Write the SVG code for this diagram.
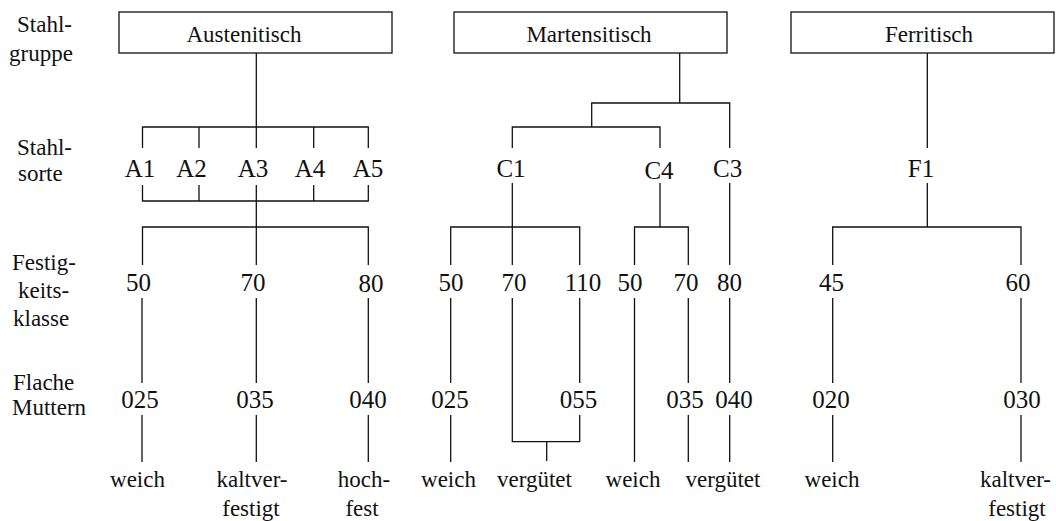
<svg xmlns="http://www.w3.org/2000/svg" width="1056" height="521" viewBox="0 0 1056 521">
<style>
text{font-family:"Liberation Serif",Tinos,"Nimbus Roman","Nimbus Roman No9 L",FreeSerif,"Noto Serif","DejaVu Serif",Times,serif;fill:#111}
.w{font-size:23px}
.n{font-size:25px;text-anchor:middle}
.c{text-anchor:middle}
.box{fill:#fff;stroke:#111;stroke-width:1.3}
.ln{fill:none;stroke:#111;stroke-width:1.3}
</style>
<rect width="1056" height="521" fill="#fff"/>
<g id="row-labels" class="w">
<text x="17" y="32">Stahl-</text><text x="9" y="61">gruppe</text>
<text x="17" y="155">Stahl-</text><text x="18" y="181">sorte</text>
<text x="12" y="270">Festig-</text><text x="18" y="298">keits-</text><text x="13" y="326">klasse</text>
<text x="13" y="390">Flache</text><text x="12" y="415">Muttern</text>
</g>
<g id="connectors" class="ln">
<path d="M256.3 53V127M142.5 148V127H368.3V148M199 127V148M256.3 127V148M313.7 127V148"/>
<path d="M142.5 185V201H368.3V185M199 185V201M313.7 185V201M256.3 185V227"/>
<path d="M142.5 265V227H368.3V265M256.3 227V265"/>
<path d="M142 298V383M256.3 298V383M368.3 298V383M142 415V462M256.3 415V462M368.3 415V462"/>
<path d="M679.7 53V103M591.7 127V103H729.7V148M512.3 148V127H660V148"/>
<path d="M512.3 183V227M450.7 265V227H579.7V265M512.3 227V265M660 183V227M634.5 265V227H688.3V265M729.7 183V265"/>
<path d="M450.7 298V383M512.3 298V441.7H579.7V415M579.7 298V383M546.7 441.7V461M634.5 298V462M688.3 298V383M729.7 298V383"/>
<path d="M450.7 415V462M688.3 415V462M729.7 415V462"/>
<path d="M927.3 53V148M927.3 183V227M832.7 265V227H1021V265M832.7 298V383M1021 298V383M832.7 415V462M1021 415V462"/>
</g>
<g id="austenitisch"><rect class="box" x="119" y="12" width="273" height="41"/><text class="w c" x="244" y="42">Austenitisch</text></g>
<g id="martensitisch"><rect class="box" x="454" y="12" width="273" height="41"/><text class="w c" x="589" y="42">Martensitisch</text></g>
<g id="ferritisch"><rect class="box" x="791" y="12" width="263" height="41"/><text class="w c" x="929" y="42">Ferritisch</text></g>
<g id="A1"><text class="n" x="140" y="177">A1</text></g>
<g id="A2"><text class="n" x="191.5" y="177">A2</text></g>
<g id="A3"><text class="n" x="253" y="177">A3</text></g>
<g id="A4"><text class="n" x="310" y="177">A4</text></g>
<g id="A5"><text class="n" x="368" y="177">A5</text></g>
<g id="C1"><text class="n" x="511" y="177">C1</text></g>
<g id="C4"><text class="n" x="659" y="179">C4</text></g>
<g id="C3"><text class="n" x="727.7" y="177">C3</text></g>
<g id="F1"><text class="n" x="921" y="177">F1</text></g>
<g id="A-50"><text class="n" x="138.5" y="291">50</text></g>
<g id="A-70"><text class="n" x="253" y="291">70</text></g>
<g id="A-80"><text class="n" x="371" y="292">80</text></g>
<g id="C1-50"><text class="n" x="451" y="291">50</text></g>
<g id="C1-70"><text class="n" x="514" y="291">70</text></g>
<g id="C1-110"><text class="n" x="583" y="291">110</text></g>
<g id="C4-50"><text class="n" x="630" y="291">50</text></g>
<g id="C4-70"><text class="n" x="686" y="291">70</text></g>
<g id="C3-80"><text class="n" x="729.5" y="291">80</text></g>
<g id="F1-45"><text class="n" x="831.5" y="291">45</text></g>
<g id="F1-60"><text class="n" x="1018" y="291">60</text></g>
<g id="A-025"><text class="n" x="140" y="408">025</text></g>
<g id="A-035"><text class="n" x="255" y="408">035</text></g>
<g id="A-040"><text class="n" x="368" y="408">040</text></g>
<g id="C-025"><text class="n" x="450" y="408">025</text></g>
<g id="C-055"><text class="n" x="578.5" y="408">055</text></g>
<g id="C-035"><text class="n" x="685" y="408">035</text></g>
<g id="C-040"><text class="n" x="734" y="408">040</text></g>
<g id="F-020"><text class="n" x="831" y="408">020</text></g>
<g id="F-030"><text class="n" x="1022" y="408">030</text></g>
<g id="A-weich"><text class="w c" x="137.5" y="487">weich</text></g>
<g id="A-kaltverfestigt"><text class="w c" x="252" y="487">kaltver-</text><text class="w c" x="251" y="516">festigt</text></g>
<g id="A-hochfest"><text class="w c" x="364" y="487">hoch-</text><text class="w c" x="362" y="516">fest</text></g>
<g id="C1-weich"><text class="w c" x="448.5" y="487">weich</text></g>
<g id="C1-verguetet"><text class="w c" x="534.5" y="487">vergütet</text></g>
<g id="C4-weich"><text class="w c" x="633" y="487">weich</text></g>
<g id="C-verguetet"><text class="w c" x="723" y="487">vergütet</text></g>
<g id="F-weich"><text class="w c" x="832" y="487">weich</text></g>
<g id="F-kaltverfestigt"><text class="w c" x="1015.5" y="487">kaltver-</text><text class="w c" x="1017" y="516">festigt</text></g>
</svg>
